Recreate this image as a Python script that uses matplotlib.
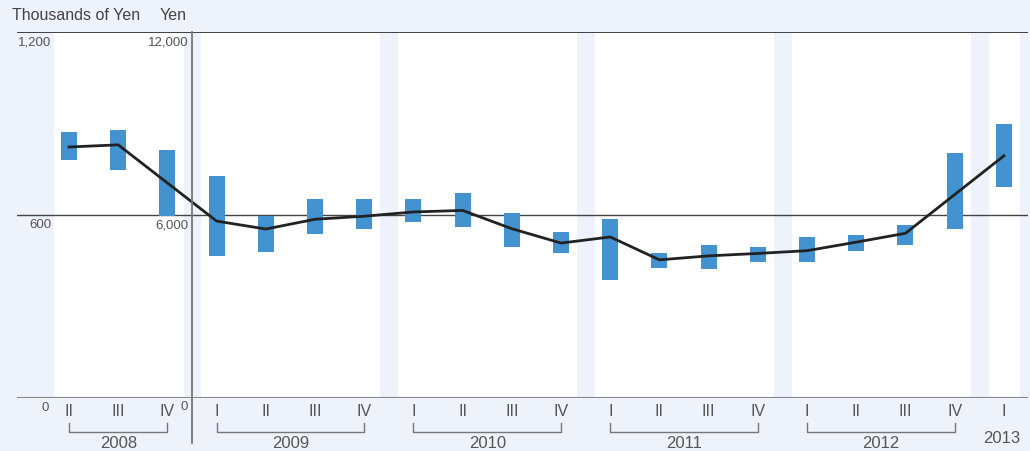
import matplotlib.pyplot as plt
import matplotlib.transforms as mtransforms

plt.rcParams['font.family'] = ['Liberation Sans', 'DejaVu Sans']

# quarterly data, 2008 II .. 2013 I (thousands of yen)
quarters = ['II', 'III', 'IV',
            'I', 'II', 'III', 'IV',
            'I', 'II', 'III', 'IV',
            'I', 'II', 'III', 'IV',
            'I', 'II', 'III', 'IV',
            'I']
years = ['2008', '2009', '2010', '2011', '2012', '2013']
year_groups = [(0, 2), (3, 6), (7, 10), (11, 14), (15, 18), (19, 19)]

high = [872, 879, 813, 728, 597, 652, 652, 652, 672, 607, 544,
        587, 475, 502, 495, 528, 534, 567, 803, 898]
low = [781, 748, 598, 467, 480, 539, 555, 578, 562, 496, 476,
       387, 427, 423, 447, 447, 483, 503, 555, 693]
avg = [823, 830, 705, 580, 554, 586, 596, 610, 615, 555, 508,
       528, 453, 466, 474, 483, 511, 540, 667, 794]

bg = '#EEF2FA'
bar_col = '#4393D0'
txt_col = '#555555'

fig = plt.figure(figsize=(10.3, 4.51), dpi=100, facecolor=bg)
ax = fig.add_axes([17/1030, 53/451, 1011/1030, 366/451])
ax.set_facecolor(bg)
ax.set_xlim(-1.057, 19.49)
ax.set_ylim(0, 1200)
for s in ax.spines.values():
    s.set_visible(False)

# white panels per year
for a, b in year_groups:
    ax.axvspan(a - 0.31, b + 0.33, color='white', lw=0, zorder=0)

ax.axhline(1200, color='#333333', lw=1.3, zorder=1)
ax.axhline(600, color='#444444', lw=1.0, zorder=1)
ax.axhline(0, color='#888888', lw=1.5, zorder=1)

x = list(range(len(quarters)))
ax.bar(x, [h - l for h, l in zip(high, low)], bottom=low, width=0.325,
       color=bar_col, zorder=2)
ax.plot(x, avg, color='#222222', lw=2.0, zorder=3, solid_joinstyle='miter')

# separating axis between 2008 and 2009
trans = mtransforms.blended_transform_factory(ax.transData, ax.transAxes)
ax.plot([2.5, 2.5], [1, -0.123], transform=trans, color='#777777', lw=1.3,
        clip_on=False, zorder=4)

# quarter labels
ax.set_xticks(x)
ax.set_xticklabels(quarters, fontsize=11.5, color=txt_col)
ax.tick_params(axis='x', length=0, pad=4)
ax.set_yticks([])

# year brackets and labels
for (a, b), yr in zip(year_groups, years):
    if a != b:
        ax.plot([a, a, b, b], [-0.0675, -0.092, -0.092, -0.0675], transform=trans,
                color='#777777', lw=1.0, clip_on=False)
        ax.text((a + b) / 2, -0.124, yr, transform=trans, ha='center', va='center',
                fontsize=12, color=txt_col)
    else:
        ax.text(a - 0.05, -0.112, yr, transform=trans, ha='center', va='center',
                fontsize=12, color=txt_col)

# value labels for both scales
for v, lab1, lab2 in [(1200, '1,200', '12,000'), (600, '600', '6,000')]:
    ax.text(-0.36, v - 14, lab1, ha='right', va='top', fontsize=9.5, color=txt_col)
    ax.text(2.42, v - 14, lab2, ha='right', va='top', fontsize=9.5, color=txt_col)
ax.text(-0.4, -12, '0', ha='right', va='top', fontsize=9.5, color=txt_col)
ax.text(2.42, -10, '0', ha='right', va='top', fontsize=9.5, color=txt_col)

fig.text(12/1030, 1 - 15/451, 'Thousands of Yen', ha='left', va='center',
         fontsize=11.5, color='#444444')
fig.text(160/1030, 1 - 15/451, 'Yen', ha='left', va='center',
         fontsize=11.5, color='#444444')

fig.savefig('out.png', dpi=100, facecolor=bg)
